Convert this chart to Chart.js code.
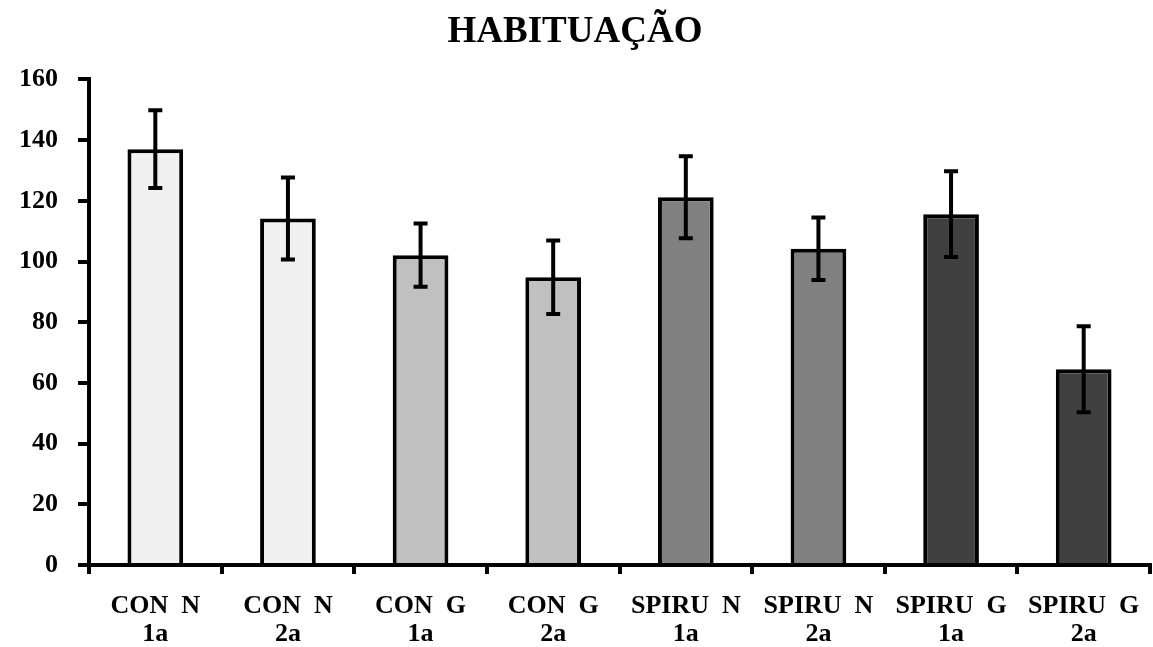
<!DOCTYPE html>
<html>
<head>
<meta charset="utf-8">
<script src="https://cdn.jsdelivr.net/npm/chart.js@4"></script>
<style>
  html,body{ margin:0; padding:0; background:#fff }
  #wrap{ width:1153px; height:647px }
</style>
</head>
<body>
<div id="wrap"><canvas id="ch"></canvas></div>
<script>
const labels = [['CON  N','1a'], ['CON  N','2a'], ['CON  G','1a'], ['CON  G','2a'], ['SPIRU  N','1a'], ['SPIRU  N','2a'], ['SPIRU  G','1a'], ['SPIRU  G','2a']]
const means = [137, 114.2, 102.1, 94.8, 121.2, 104.2, 115.6, 64.5]
const errs = [12.8, 13.5, 10.4, 12.1, 13.5, 10.3, 14.1, 14.2]
const colors = ['#f0f0f0', '#f0f0f0', '#c0c0c0', '#c0c0c0', '#808080', '#808080', '#404040', '#404040']
const yTicks = [0, 20, 40, 60, 80, 100, 120, 140, 160]

const serif = '"Liberation Serif", "Times New Roman", serif'

// error bars drawn from the y scale, on top of the bars
const errorBars = {
  id: 'errorBars',
  afterDatasetsDraw(chart){
    const { ctx, scales:{ y } } = chart
    const meta = chart.getDatasetMeta(0)
    ctx.save()
    ctx.strokeStyle = '#000'; ctx.lineWidth = 4; ctx.lineCap = 'butt'
    meta.data.forEach((bar, i)=>{
      const x = bar.x
      const hi = y.getPixelForValue(means[i] + errs[i]), lo = y.getPixelForValue(means[i] - errs[i])
      ctx.beginPath()
      ctx.moveTo(x, hi); ctx.lineTo(x, lo)
      ctx.moveTo(x - 7, hi); ctx.lineTo(x + 7, hi)
      ctx.moveTo(x - 7, lo); ctx.lineTo(x + 7, lo)
      ctx.stroke()
    })
    ctx.restore()
  }
}

new Chart(document.getElementById('ch'), {
  type: 'bar',
  data: { labels, datasets: [ { data: means, backgroundColor: colors, borderColor: '#000', borderWidth: 4, categoryPercentage: 1, barPercentage: 0.42 } ] },
  options: {
    responsive: true, maintainAspectRatio: false, animation: false,
    layout: { padding: { left: 0, right: 3, top: 0, bottom: 0 } },
    plugins: {
      legend: { display: false }, tooltip: { enabled: false },
      title: { display: true, text: 'HABITUAÇÃO', color: '#000', font: { family: serif, size: 37, weight: 'bold' }, padding: { top: 10, bottom: 25 } }
    },
    scales: {
      y: {
        min: 0, max: 160,
        afterBuildTicks: s => { s.ticks = yTicks.map(v => ({ value: v })) },
        afterFit: s => { s.width = 89 },
        border: { display: true, color: '#000', width: 4 },
        grid: { drawOnChartArea: false, drawTicks: true, tickLength: 11, color: '#000', lineWidth: 4 },
        ticks: { color: '#000', padding: 20, font: { family: serif, size: 26, weight: 'bold' } }
      },
      x: {
        afterFit: s => { s.height = 82; s.paddingLeft = 0; s.paddingRight = 0 },
        border: { display: true, color: '#000', width: 4 },
        grid: { offset: true, drawOnChartArea: false, drawTicks: true, tickLength: 9, color: '#000', lineWidth: 4 },
        ticks: { color: '#000', padding: 19, maxRotation: 0, autoSkip: false, font: { family: serif, size: 26, weight: 'bold', lineHeight: 1.05 } }
      }
    }
  },
  plugins: [errorBars]
})
</script>
</body>
</html>
